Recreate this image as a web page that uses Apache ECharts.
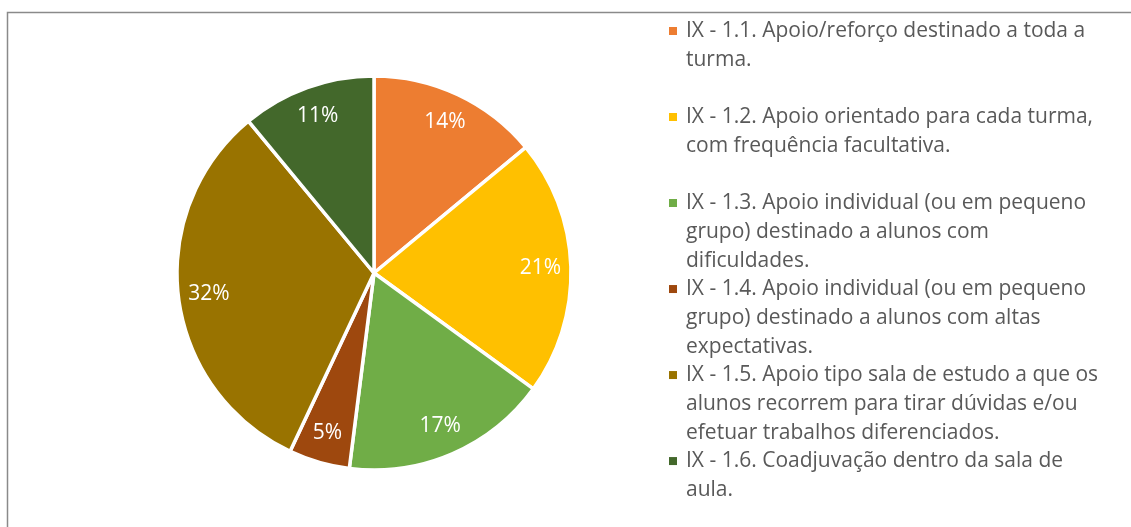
<!DOCTYPE html>
<html>
<head>
<meta charset="utf-8">
<script src="https://cdn.jsdelivr.net/npm/echarts@6/dist/echarts.min.js"></script>
<style>
html,body{margin:0;padding:0;background:#fff;}
#chart{width:1131px;height:527px;}
</style>
</head>
<body>
<div id="chart"></div>
<script>
var categories = [
  "IX - 1.1. Apoio/reforço destinado a toda a turma.",
  "IX - 1.2. Apoio orientado para cada turma, com frequência facultativa.",
  "IX - 1.3. Apoio individual (ou em pequeno grupo) destinado a alunos com dificuldades.",
  "IX - 1.4. Apoio individual (ou em pequeno grupo) destinado a alunos com altas expectativas.",
  "IX - 1.5. Apoio tipo sala de estudo a que os alunos recorrem para tirar dúvidas e/ou efetuar trabalhos diferenciados.",
  "IX - 1.6. Coadjuvação dentro da sala de aula."
];
var legendLines = [
  "IX - 1.1. Apoio/reforço destinado a toda a\nturma.\n ",
  "IX - 1.2. Apoio orientado para cada turma,\ncom frequência facultativa.\n ",
  "IX - 1.3. Apoio individual (ou em pequeno\ngrupo) destinado a alunos com\ndificuldades.",
  "IX - 1.4. Apoio individual (ou em pequeno\ngrupo) destinado a alunos com altas\nexpectativas.",
  "IX - 1.5. Apoio tipo sala de estudo a que os\nalunos recorrem para tirar dúvidas e/ou\nefetuar trabalhos diferenciados.",
  "IX - 1.6. Coadjuvação dentro da sala de\naula.\n "
];
var values = [14, 21, 17, 5, 32, 11];
var colors = ["#ED7D31", "#FFC000", "#70AD47", "#9E480E", "#997300", "#43682B"];

var pieData = categories.map(function (c, i) {
  return { name: c, value: values[i], itemStyle: { color: colors[i] } };
});
var labelData = categories.map(function (c, i) {
  return { name: c, value: values[i] };
});

var chart = echarts.init(document.getElementById('chart'), null, { renderer: 'canvas' });
var FONT = '"Open Sans", "Noto Sans", sans-serif';
chart.setOption({
  animation: false,
  backgroundColor: '#ffffff',
  graphic: [{
    type: 'rect',
    shape: { x: 7.5, y: 12.5, width: 1300, height: 700 },
    style: { fill: 'none', stroke: '#8a8a8a', lineWidth: 1.5 },
    silent: true,
    z: -10
  }],
  legend: {
    orient: 'vertical',
    left: 664,
    top: 17,
    width: 470,
    height: 700,
    padding: 0,
    itemGap: 0,
    itemWidth: 17,
    itemHeight: 86,
    icon: 'path://M0,0L0,0M17,86L17,86M5,10h8v8h-8z',
    itemStyle: { borderWidth: 0 },
    selectedMode: false,
    data: categories,
    formatter: function (name) { return legendLines[categories.indexOf(name)]; },
    textStyle: { fontFamily: FONT, fontSize: 21, color: '#595959', lineHeight: 28.67 }
  },
  series: [{
    type: 'pie',
    center: [374, 273],
    radius: [0, 197],
    startAngle: 90,
    clockwise: true,
    silent: true,
    itemStyle: { borderColor: '#ffffff', borderWidth: 3.5 },
    label: { show: false },
    labelLine: { show: false },
    emphasis: { disabled: true },
    data: pieData
  }, {
    type: 'pie',
    center: [374, 273],
    radius: [130, 197],
    startAngle: 90,
    clockwise: true,
    silent: true,
    itemStyle: { color: 'rgba(0,0,0,0)', borderWidth: 0 },
    label: {
      show: true,
      position: 'inside',
      formatter: '{c}%',
      color: '#ffffff',
      fontFamily: FONT,
      fontSize: 21
    },
    labelLine: { show: false },
    emphasis: { disabled: true },
    data: labelData
  }]
});
</script>
</body>
</html>
